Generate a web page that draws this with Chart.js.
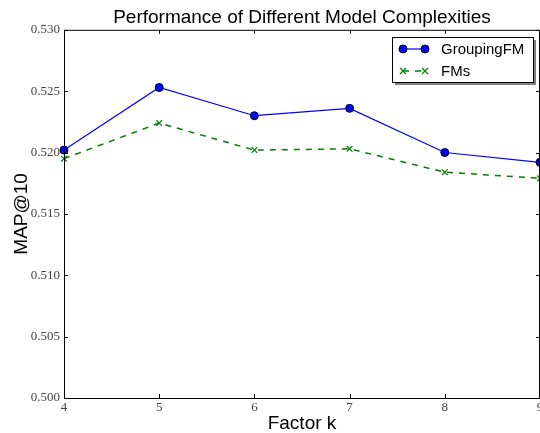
<!DOCTYPE html>
<html>
<head>
<meta charset="utf-8">
<script src="https://cdn.jsdelivr.net/npm/chart.js@4.4.1/dist/chart.umd.min.js"></script>
<style>
  html, body { margin: 0; padding: 0; background: #fff; }
  #wrap { width: 540px; height: 433px; }
</style>
</head>
<body>
<div id="wrap"><canvas id="myChart" width="540" height="433"></canvas></div>
<script>
var factors = [4, 5, 6, 7, 8, 9];
var groupingFM = [0.5202, 0.5253, 0.5230, 0.5236, 0.5200, 0.5192];
var fms = [0.5195, 0.5224, 0.5202, 0.5203, 0.5184, 0.5179];
var yTicks = [0.500, 0.505, 0.510, 0.515, 0.520, 0.525, 0.530];

var tickFont = { family: "'Liberation Serif', 'DejaVu Serif', serif", size: 13 };
var sansFont = "'Liberation Sans', Arial, sans-serif";

function toPoints(arr) {
  var pts = [];
  for (var i = 0; i < factors.length; i++) {
    pts.push({ x: factors[i], y: arr[i] });
  }
  return pts;
}

// -------------------- frame, inward ticks and legend -------------------- //

var framePlugin = {
  id: 'frame',
  afterDraw: function(chart) {
    var ctx = chart.ctx;
    var a = chart.chartArea;
    var xs = chart.scales.x, ys = chart.scales.y;
    ctx.save();
    ctx.strokeStyle = '#000';
    ctx.lineWidth = 1;
    ctx.strokeRect(a.left + 0.5, a.top + 0.5, a.right - a.left - 1, a.bottom - a.top);
    ctx.beginPath();
    for (var i = 0; i < factors.length; i++) {
      var px = Math.round(xs.getPixelForValue(factors[i])) + 0.5;
      ctx.moveTo(px, a.bottom); ctx.lineTo(px, a.bottom - 4);
      ctx.moveTo(px, a.top); ctx.lineTo(px, a.top + 4);
    }
    for (var j = 0; j < yTicks.length; j++) {
      var py = Math.round(ys.getPixelForValue(yTicks[j])) + 0.5;
      ctx.moveTo(a.left, py); ctx.lineTo(a.left + 4, py);
      ctx.moveTo(a.right, py); ctx.lineTo(a.right - 4, py);
    }
    ctx.stroke();

    // legend box with shadow
    var lx = 392, ly = 37, lw = 141, lh = 45;
    ctx.fillStyle = '#7f7f7f';
    ctx.fillRect(lx + 3, ly + 3, lw, lh);
    ctx.fillStyle = '#fff';
    ctx.fillRect(lx, ly, lw, lh);
    ctx.strokeStyle = '#000';
    ctx.strokeRect(lx + 0.5, ly + 0.5, lw, lh);

    var sets = chart.data.datasets;
    var rows = [49, 71];
    for (var k = 0; k < sets.length; k++) {
      var ds = sets[k];
      var y = rows[k];
      ctx.strokeStyle = ds.borderColor;
      ctx.lineWidth = ds.borderWidth;
      ctx.setLineDash(ds.borderDash || []);
      ctx.beginPath();
      ctx.moveTo(403, y); ctx.lineTo(425, y);
      ctx.stroke();
      ctx.setLineDash([]);
      var ends = [403, 425];
      for (var e = 0; e < 2; e++) {
        ctx.fillStyle = ds.pointBackgroundColor;
        ctx.strokeStyle = ds.pointBorderColor;
        ctx.lineWidth = ds.pointBorderWidth;
        ctx.beginPath();
        if (ds.pointStyle === 'circle') {
          ctx.arc(ends[e], y, ds.pointRadius, 0, Math.PI * 2);
          ctx.fill(); ctx.stroke();
        } else {
          var r = ds.pointRadius * 0.75;
          ctx.moveTo(ends[e] - r, y - r); ctx.lineTo(ends[e] + r, y + r);
          ctx.moveTo(ends[e] - r, y + r); ctx.lineTo(ends[e] + r, y - r);
          ctx.stroke();
        }
      }
      ctx.fillStyle = '#000';
      ctx.font = '15px ' + sansFont;
      ctx.textBaseline = 'middle';
      ctx.textAlign = 'left';
      ctx.fillText(ds.label, 441, y + 1);
    }
    ctx.restore();
  }
};

var chart = new Chart(document.getElementById('myChart').getContext('2d'), {
  type: 'line',
  data: {
    datasets: [
      {
        label: 'GroupingFM',
        data: toPoints(groupingFM),
        borderColor: '#0000ff',
        borderWidth: 1.2,
        pointStyle: 'circle',
        pointRadius: 4,
        pointBackgroundColor: '#0000ff',
        pointBorderColor: '#000',
        pointBorderWidth: 1,
        fill: false,
        tension: 0
      },
      {
        label: 'FMs',
        data: toPoints(fms),
        borderColor: '#007f00',
        borderWidth: 1.5,
        borderDash: [6, 6],
        pointStyle: 'crossRot',
        pointRadius: 4,
        pointBorderColor: '#007f00',
        pointBackgroundColor: '#007f00',
        pointBorderWidth: 1.2,
        fill: false,
        tension: 0
      }
    ]
  },
  options: {
    responsive: false,
    animation: false,
    clip: false,
    layout: { autoPadding: false, padding: 0 },
    plugins: {
      legend: { display: false },
      tooltip: { enabled: false },
      title: {
        display: true,
        fullSize: false,
        text: 'Performance of Different Model Complexities',
        color: '#000',
        font: { family: sansFont, size: 19, weight: 'normal' },
        padding: { top: 6, bottom: 1 }
      }
    },
    scales: {
      x: {
        type: 'linear',
        min: 4,
        max: 9,
        afterBuildTicks: function(scale) {
          scale.ticks = factors.map(function(v) { return { value: v }; });
        },
        afterFit: function(scale) {
          scale.height = 35;
          scale.paddingLeft = 0;
          scale.paddingRight = 0;
        },
        grid: { display: false, drawTicks: false },
        border: { display: false },
        ticks: { color: '#444', font: tickFont, padding: 2, maxRotation: 0 },
        title: {
          display: true,
          text: 'Factor k',
          color: '#000',
          font: { family: sansFont, size: 19, lineHeight: 1 },
          padding: { top: 0, bottom: 0 }
        }
      },
      y: {
        min: 0.500,
        max: 0.530,
        afterBuildTicks: function(scale) {
          scale.ticks = yTicks.map(function(v) { return { value: v }; });
        },
        afterFit: function(scale) {
          scale.width = 64;
          scale.paddingTop = 0;
          scale.paddingBottom = 0;
        },
        grid: { display: false, drawTicks: false },
        border: { display: false },
        ticks: {
          color: '#444',
          font: tickFont,
          padding: 4,
          callback: function(v) { return v.toFixed(3); }
        },
        title: {
          display: true,
          text: 'MAP@10',
          color: '#000',
          font: { family: sansFont, size: 19, lineHeight: 1 },
          padding: { top: 12, bottom: 0 }
        }
      }
    }
  },
  plugins: [framePlugin]
});
</script>
</body>
</html>
